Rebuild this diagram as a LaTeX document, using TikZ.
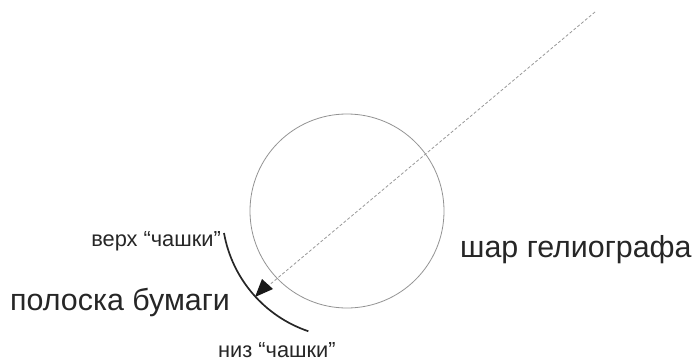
\documentclass[tikz,border=0pt]{standalone}
\usepackage{fontspec}
\setmainfont{Liberation Sans}
\usetikzlibrary{arrows.meta}
\begin{document}
\begin{tikzpicture}[x=1pt,y=-1pt,
  bigtext/.style={font=\fontsize{30.4}{33}\selectfont, inner sep=0pt, text=black!85},
  smalltext/.style={font=\fontsize{21.8}{24}\selectfont, inner sep=0pt, text=black!85},
  ray/.style={draw=gray!80, dashed, dash pattern=on 3pt off 2pt, line width=0.8pt},
  strip/.style={draw=black!85, line width=1.7pt}]
\useasboundingbox (0,0) rectangle (693,362);
\node (ball) [circle, draw=gray!85, line width=0.8pt, minimum size=194pt, inner sep=0pt] at (347,211) {};
\coordinate (sun) at (595,12);
\coordinate (tip) at (255,297);
\draw[ray] (sun) -- (tip);
\fill[black!90] (tip) -- ++(7,-18) -- ++(11,10) -- cycle;
\coordinate (stripstart) at (224,233);
\draw[strip] (stripstart) arc[start angle=170, end angle=108.7, radius=127];
\node (top) [smalltext, anchor=base east] at (221,246) {верх “чашки”};
\node (paper) [bigtext, anchor=base west] at (10,310) {полоска бумаги};
\node (bottom) [smalltext, anchor=base west] at (218,357) {низ “чашки”};
\node (label) [bigtext, anchor=base west] at (460,257) {шар гелиографа};
\end{tikzpicture}
\end{document}
